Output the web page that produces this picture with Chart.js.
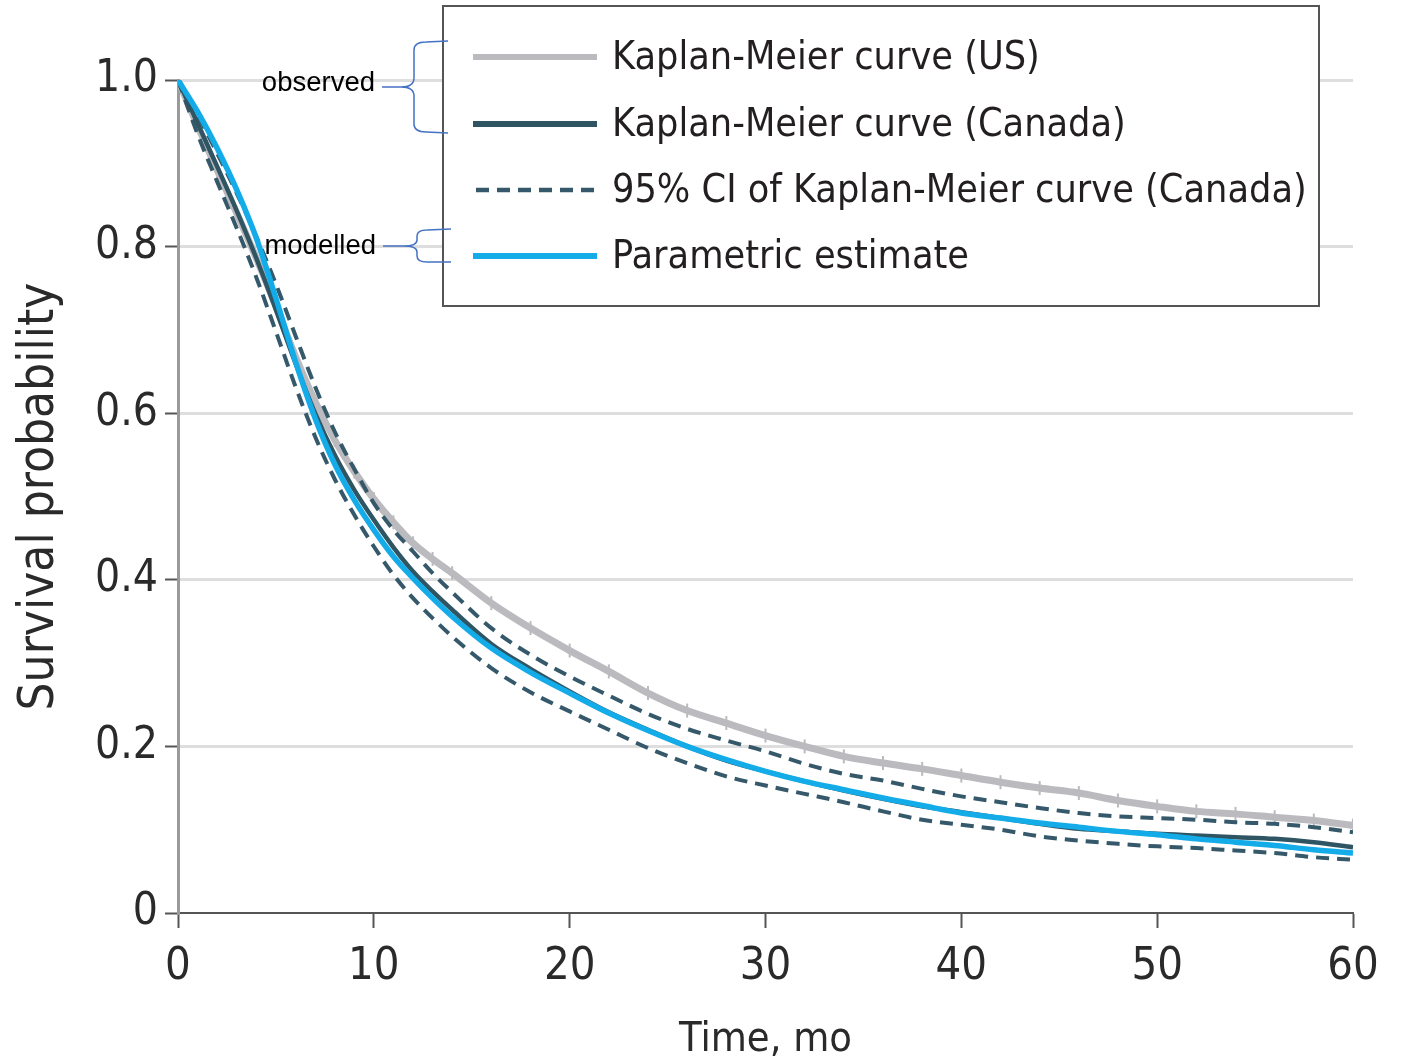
<!DOCTYPE html>
<html><head><meta charset="utf-8">
<script src="https://cdn.jsdelivr.net/npm/chart.js@4.4.1/dist/chart.umd.min.js"></script>
<style>html,body{margin:0;padding:0;background:#fff;}#wrap{width:1408px;height:1062px;position:relative;}</style>
</head><body><div id="wrap"><canvas id="c" width="1408" height="1062"></canvas></div>
<script>
// ---- data ----
const months = [0,1,2,3,4,5,6,7,8,9,10,11,12,13,14,16,18,20,22,24,26,28,30,32,34,36,38,40,42,44,46,48,50,52,54,56,58,60];
const usKM = [1.0,0.945,0.892,0.84,0.786,0.728,0.668,0.614,0.568,0.53,0.497,0.469,0.444,0.425,0.408,0.372,0.342,0.315,0.29,0.264,0.243,0.228,0.213,0.2,0.188,0.18,0.173,0.165,0.157,0.15,0.144,0.135,0.128,0.122,0.119,0.115,0.111,0.105];
const canadaKM = [1.0,0.948,0.896,0.843,0.786,0.724,0.66,0.6,0.55,0.508,0.472,0.439,0.41,0.386,0.364,0.323,0.293,0.266,0.241,0.22,0.2,0.183,0.17,0.158,0.147,0.137,0.128,0.121,0.114,0.107,0.101,0.098,0.095,0.093,0.091,0.089,0.085,0.079];
const canadaCIUpper = [1.0,0.958,0.912,0.864,0.812,0.755,0.693,0.632,0.578,0.533,0.492,0.46,0.434,0.408,0.385,0.342,0.31,0.284,0.261,0.239,0.221,0.207,0.194,0.179,0.167,0.159,0.149,0.14,0.133,0.126,0.12,0.116,0.114,0.112,0.109,0.107,0.103,0.097];
const canadaCILower = [1.0,0.935,0.878,0.822,0.763,0.698,0.632,0.572,0.521,0.478,0.44,0.406,0.378,0.354,0.332,0.294,0.265,0.242,0.22,0.198,0.18,0.164,0.153,0.143,0.133,0.122,0.112,0.106,0.1,0.092,0.087,0.083,0.08,0.078,0.075,0.072,0.067,0.064];
const parametric = [1.0,0.962,0.918,0.868,0.81,0.738,0.662,0.594,0.539,0.496,0.46,0.428,0.402,0.378,0.356,0.318,0.289,0.264,0.24,0.219,0.2,0.184,0.17,0.158,0.148,0.138,0.129,0.12,0.114,0.108,0.103,0.098,0.094,0.089,0.085,0.081,0.076,0.072];
const xTickValues = [0,10,20,30,40,50,60];
const yTickValues = [0,0.2,0.4,0.6,0.8,1.0];
const legendLabels = ['Kaplan-Meier curve (US)','Kaplan-Meier curve (Canada)','95% CI of Kaplan-Meier curve (Canada)','Parametric estimate'];
const annotationLabels = ['observed','modelled'];
const xTitle = 'Time, mo';
const yTitle = 'Survival probability';

// ---- styles ----
const COND = "'DejaVu Sans Condensed', 'DejaVu Sans', sans-serif";
const NARROW = "'Liberation Sans Narrow', 'DejaVu Sans Condensed', sans-serif";
const C_GRAY = '#bbbbbf', C_DARK = '#2f5563', C_DASH = '#35596a', C_BLUE = '#14ace8';
const mctx = document.createElement('canvas').getContext('2d');
function fitSize(text, family, target){ mctx.font = '100px ' + family; return 100*target/mctx.measureText(text).width; }
const legendSize = fitSize(legendLabels[0], NARROW, 428);
const xTitleSize = fitSize(xTitle, NARROW, 173);
const yTitleSize = fitSize(yTitle, COND, 428);

function pts(arr){ return months.map((m,i)=>({x:m,y:arr[i]})); }

const legendPlugin = {
  id:'customLegend',
  afterDraw(chart){
    const ctx = chart.ctx;
    ctx.save();
    ctx.fillStyle = '#fff';
    ctx.fillRect(443,6,876,300);
    ctx.strokeStyle = '#555'; ctx.lineWidth = 2;
    ctx.strokeRect(443,6,876,300);
    const items = [
      {ds:4, y:57},{ds:1, y:124},{ds:2, y:190},{ds:0, y:256}
    ];
    items.forEach((it,i)=>{
      const d = chart.data.datasets[it.ds];
      ctx.beginPath();
      ctx.strokeStyle = d.borderColor;
      ctx.lineWidth = d.borderDash ? 4.5 : 6;
      ctx.setLineDash(d.borderDash ? [13,8] : []);
      ctx.moveTo(d.borderDash ? 476 : 473, it.y);
      ctx.lineTo(597, it.y);
      ctx.stroke();
      ctx.setLineDash([]);
      ctx.fillStyle = '#231f20';
      ctx.font = legendSize.toFixed(1)+'px '+NARROW;
      ctx.textBaseline = 'middle';
      ctx.textAlign = 'left';
      ctx.fillText(legendLabels[i], 612, it.y+2);
    });
    // annotations
    ctx.fillStyle = '#000';
    ctx.font = "27.5px 'Liberation Sans', Arial, sans-serif";
    ctx.textAlign = 'right'; ctx.textBaseline = 'middle';
    ctx.fillText(annotationLabels[0], 375, 83);
    ctx.fillText(annotationLabels[1], 376, 246);
    ctx.strokeStyle = '#4472c4'; ctx.lineWidth = 1.5;
    // observed brace
    ctx.beginPath();
    ctx.moveTo(382,87); ctx.lineTo(401,87);
    ctx.quadraticCurveTo(414,87,414,78); ctx.lineTo(414,50);
    ctx.quadraticCurveTo(414,42,426,42); ctx.lineTo(448,41);
    ctx.moveTo(401,87); ctx.quadraticCurveTo(414,87,414,96); ctx.lineTo(414,124);
    ctx.quadraticCurveTo(414,132,426,132); ctx.lineTo(448,133);
    ctx.stroke();
    // modelled brace
    ctx.beginPath();
    ctx.moveTo(383,246); ctx.lineTo(404,246);
    ctx.quadraticCurveTo(417,246,417,240); ctx.lineTo(417,236);
    ctx.quadraticCurveTo(417,230,427,230); ctx.lineTo(451,229);
    ctx.moveTo(404,246); ctx.quadraticCurveTo(417,246,417,252); ctx.lineTo(417,256);
    ctx.quadraticCurveTo(417,262,427,262); ctx.lineTo(451,262);
    ctx.stroke();
    ctx.restore();
  }
};

new Chart(document.getElementById('c'), {
  type:'line',
  data:{ datasets:[
    {label:legendLabels[3], data:pts(parametric), borderColor:C_BLUE, borderWidth:5.5, pointRadius:0, cubicInterpolationMode:'monotone'},
    {label:legendLabels[1], data:pts(canadaKM), borderColor:C_DARK, borderWidth:4.5, pointRadius:0, cubicInterpolationMode:'monotone'},
    {label:legendLabels[2], data:pts(canadaCIUpper), borderColor:C_DASH, borderWidth:4, borderDash:[13,8], pointRadius:0, cubicInterpolationMode:'monotone'},
    {label:legendLabels[2]+' lower', data:pts(canadaCILower), borderColor:C_DASH, borderWidth:4, borderDash:[13,8], pointRadius:0, cubicInterpolationMode:'monotone'},
    {label:legendLabels[0], data:pts(usKM), borderColor:C_GRAY, borderWidth:7, pointStyle:'line', rotation:90, pointRadius:7, pointBorderWidth:2, pointBorderColor:C_GRAY, pointBackgroundColor:C_GRAY, cubicInterpolationMode:'monotone'}
  ]},
  options:{
    responsive:false, animation:false, devicePixelRatio:1,
    layout:{padding:{top:80,right:55,left:0,bottom:0}},
    plugins:{legend:{display:false}, tooltip:{enabled:false}},
    scales:{
      x:{type:'linear', min:0, max:60,
        afterBuildTicks:s=>{s.ticks = xTickValues.map(v=>({value:v}));},
        afterFit:s=>{s.height = 149;},
        ticks:{font:{family:COND, size:45}, color:'#2a2a2a', padding:12, maxRotation:0, callback:v=>String(v)},
        grid:{drawOnChartArea:false, drawTicks:true, tickLength:15, tickWidth:2, tickColor:'#555'},
        border:{display:true, color:'#555', width:2},
        title:{display:true, text:xTitle, color:'#2a2a2a', font:{family:NARROW, size:xTitleSize, lineHeight:1}, padding:{top:0,bottom:1}}
      },
      y:{min:0, max:1,
        afterBuildTicks:s=>{s.ticks = yTickValues.map(v=>({value:v}));},
        afterFit:s=>{s.width = 178;},
        ticks:{font:{family:COND, size:44}, color:'#2a2a2a', padding:7, callback:v=> v===0 ? '0' : Number(v).toFixed(1)},
        grid:{color:c=> (c.tick && c.tick.value===0) ? 'rgba(0,0,0,0)' : '#dedede', lineWidth:3, drawTicks:true, tickLength:13, tickWidth:2, tickColor:'#555'},
        border:{display:true, color:'#9a9a9a', width:3},
        title:{display:true, text:yTitle, color:'#2a2a2a', font:{family:COND, size:yTitleSize, lineHeight:1}, padding:{top:16,bottom:0}}
      }
    }
  },
  plugins:[legendPlugin]
});
</script></body></html>
